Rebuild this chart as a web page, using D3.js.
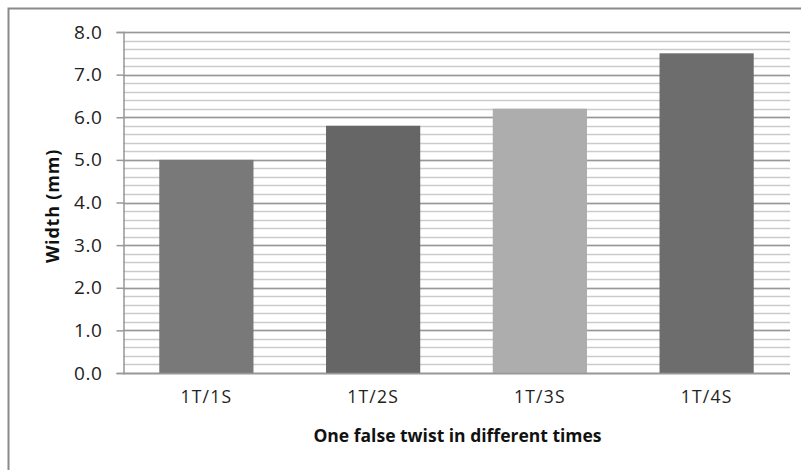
<!DOCTYPE html>
<html>
<head>
<meta charset="utf-8">
<script src="https://d3js.org/d3.v7.min.js"></script>
<style>
  html, body { margin: 0; padding: 0; background: #fff; }
  svg { display: block; font-family: "Open Sans", "DejaVu Sans", sans-serif; }
</style>
</head>
<body>
<svg id="chart" width="801" height="470"></svg>
<script>
// Twist treatments and the measured width for each
const categories = ["1T/1S", "1T/2S", "1T/3S", "1T/4S"];
const widths = [5.0, 5.8, 6.2, 7.5];
const barColors = ["#797979", "#666666", "#adadad", "#6d6d6d"];
const yTicks = [0, 1, 2, 3, 4, 5, 6, 7, 8];
const yMinorTicks = d3.range(0, 8.001, 0.2);
const yTitle = "Width (mm)";
const xTitle = "One false twist in different times";

const svg = d3.select("#chart");
const margin = { left: 123, right: 11, top: 32, bottom: 97 };
const W = 801, H = 470;

// Outer chart frame
svg.append("rect")
  .attr("x", 8.5).attr("y", 8.5)
  .attr("width", W + 20).attr("height", H + 20)
  .attr("fill", "#fff").attr("stroke", "#8a8a8a").attr("stroke-width", 2);

const x = d3.scaleBand()
  .domain(categories)
  .range([margin.left, W - margin.right])
  .paddingInner(0.435).paddingOuter(0.2175);

const y = d3.scaleLinear()
  .domain([0, 8])
  .range([H - margin.bottom, margin.top]);

// Minor gridlines every 0.2
svg.append("g").selectAll("line")
  .data(yMinorTicks)
  .join("line")
  .attr("x1", margin.left).attr("x2", W - margin.right)
  .attr("y1", d => Math.round(y(d)) + 0.5).attr("y2", d => Math.round(y(d)) + 0.5)
  .attr("stroke", "#cbcbcb").attr("stroke-width", 1.5);

// Major gridlines every 1.0
svg.append("g").selectAll("line")
  .data(yTicks)
  .join("line")
  .attr("x1", margin.left).attr("x2", W - margin.right)
  .attr("y1", d => Math.round(y(d)) + 0.5).attr("y2", d => Math.round(y(d)) + 0.5)
  .attr("stroke", "#989898").attr("stroke-width", 1.5);

// Bars
svg.append("g").selectAll("rect")
  .data(categories)
  .join("rect")
  .attr("x", d => x(d))
  .attr("width", x.bandwidth())
  .attr("y", (d, i) => y(widths[i]))
  .attr("height", (d, i) => y(0) - y(widths[i]))
  .attr("fill", (d, i) => barColors[i]);

// Y axis
const yAxis = svg.append("g")
  .attr("transform", `translate(${margin.left + 0.5},0)`)
  .call(d3.axisLeft(y).tickValues(yTicks).tickFormat(d3.format(".1f")).tickSize(7).tickPadding(14));
yAxis.select(".domain").attr("stroke", "#989898").attr("stroke-width", 1.5);
yAxis.selectAll(".tick line").attr("stroke", "#989898").attr("stroke-width", 1.5);
yAxis.selectAll(".tick text")
  .attr("fill", "#222")
  .style("font-size", "19px").style("letter-spacing", "0.6px")
  .style("font-family", "\"Open Sans\", sans-serif");

// X axis
const xAxis = svg.append("g")
  .attr("transform", `translate(0,${Math.round(y(0)) + 0.5})`)
  .call(d3.axisBottom(x).tickSize(0).tickPadding(17));
xAxis.select(".domain").attr("stroke", "#989898").attr("stroke-width", 1.5)
  .attr("d", `M${margin.left},0H${W - margin.right}`);
xAxis.selectAll(".tick text")
  .attr("fill", "#222")
  .style("font-size", "17.5px").style("letter-spacing", "1.2px")
  .style("font-family", "\"Open Sans\", sans-serif");

// Axis titles
svg.append("text")
  .attr("transform", `translate(59,206) rotate(-90)`)
  .attr("text-anchor", "middle")
  .attr("font-weight", "bold").attr("font-size", 18).attr("fill", "#111")
  .style("letter-spacing", "0.8px")
  .text(yTitle);

svg.append("text")
  .attr("x", 457.5).attr("y", 442)
  .attr("text-anchor", "middle")
  .attr("font-weight", "bold").attr("font-size", 17.5).attr("fill", "#111")
  .text(xTitle);
</script>
</body>
</html>
